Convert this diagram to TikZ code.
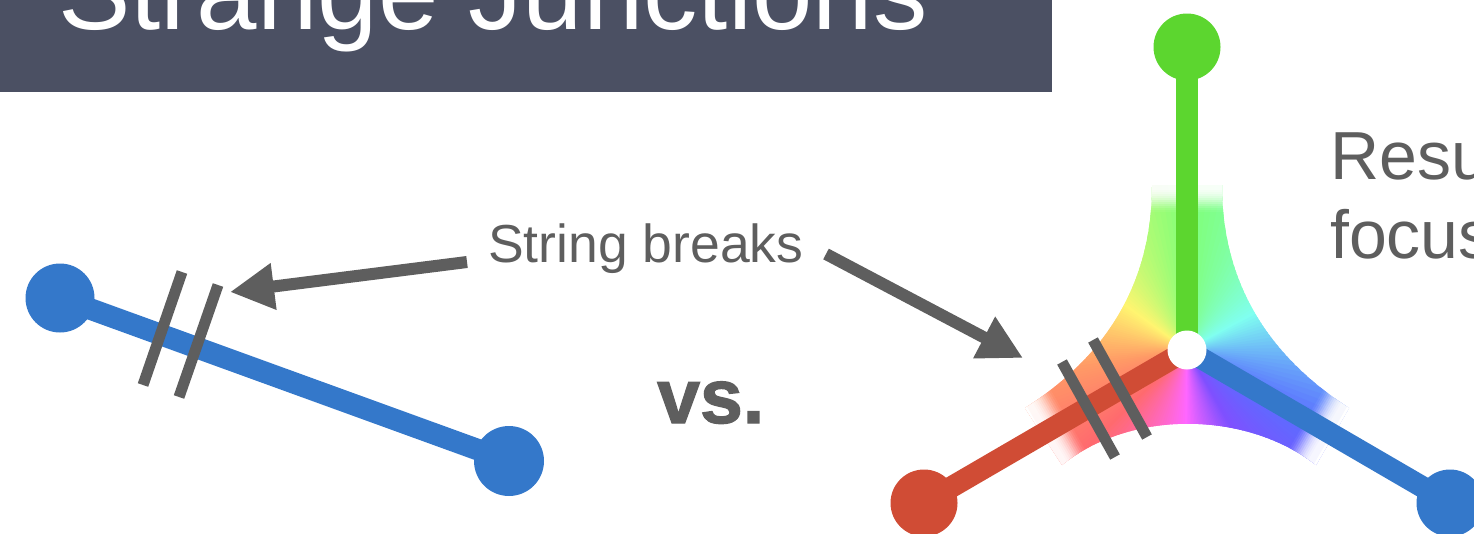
\documentclass[tikz,border=0pt]{standalone}
\usepackage{fontspec}
\setmainfont{Liberation Sans}
\newfontfamily\heavyfont[FakeBold=1.6]{Liberation Sans Bold}
\usetikzlibrary{arrows.meta,calc}
\definecolor{bandcol}{HTML}{4B5063}
\definecolor{inkcol}{HTML}{5E5E5E}
\definecolor{stringblue}{HTML}{3478CA}
\definecolor{stringred}{HTML}{D04C35}
\definecolor{stringgreen}{HTML}{5CD62F}
% pastel hue wheel of the junction field, clockwise from the top
\definecolor{hgreen}{HTML}{80FF78}
\definecolor{hcyan}{HTML}{80FFF0}
\definecolor{hblue}{HTML}{5A6EFF}
\definecolor{hviolet}{HTML}{8050FF}
\definecolor{hmagenta}{HTML}{FF66FF}
\definecolor{hred}{HTML}{FF6A6E}
\definecolor{horange}{HTML}{FF9A66}
\definecolor{hyellow}{HTML}{FFF570}
\tikzset{
  endball/.style={circle,fill=#1,draw=none,minimum size=67pt,inner sep=0pt},
  stringline/.style={line width=21.5pt,draw=#1},
  breakmark/.style={line width=11pt,draw=inkcol},
  pointer/.style={line width=12pt,draw=inkcol,-{Triangle[length=44pt,width=44pt,fill=inkcol]}},
  label/.style={inner sep=0pt,text=inkcol,anchor=base west,font=\fontsize{53.5}{60}\selectfont},
  biglabel/.style={inner sep=0pt,text=inkcol,anchor=base west,font=\fontsize{68}{72}\selectfont},
}
\begin{document}
\begin{tikzpicture}[x=1pt,y=-1pt]
\useasboundingbox (0,0) rectangle (1474,533);
\clip (0,0) rectangle (1474,533);

% heading band
\fill[bandcol] (0,0) rectangle (1052,92);
\node[inner sep=0pt,anchor=base west,text=white,font=\fontsize{108.6}{110}\selectfont] (heading) at (58,29) {Strange Junctions};

% straight string
\node[endball=stringblue,minimum size=69pt] (qa) at (60,298) {};
\node[endball=stringblue,minimum size=70pt] (qb) at (509,461) {};
\draw[stringline=stringblue] (qa.center) -- (qb.center);
\coordinate (ma1) at (182,272); \coordinate (ma2) at (143,385);
\coordinate (mb1) at (218,285); \coordinate (mb2) at (179,397);
\draw[breakmark] (ma1) -- (ma2);
\draw[breakmark] (mb1) -- (mb2);

% labels and pointers
\node[label] (breaks) at (488,262) {String breaks};
\node[inner sep=0pt,anchor=base west,text=inkcol,font=\heavyfont\fontsize{77}{80}\selectfont] (versus) at (657,423) {vs.};
\node[biglabel] (res) at (1330,179) {Resu};
\node[biglabel] (foc) at (1330,258) {focus};
\coordinate (pa0) at (467,262); \coordinate (pa1) at (230,292);
\coordinate (pb0) at (826,254); \coordinate (pb1) at (1023,358);
\draw[pointer] (pa0) -- (pa1);
\draw[pointer] (pb0) -- (pb1);

% junction field
\coordinate (hub) at (1187,350);
\begin{scope}
  \clip (1152,185) .. controls (1152,290) and (1100,360) .. (1025,408)
     -- (1062,465) .. controls (1130,410) and (1245,410) .. (1316,465)
     -- (1349,408) .. controls (1275,360) and (1222,290) .. (1222,185) -- cycle;
  \foreach \ca/\cb/\sa/\sb in {hgreen/hcyan/0/60,hcyan/hblue/60/120,hblue/hviolet/120/150,
      hviolet/hmagenta/150/180,hmagenta/hred/180/225,hred/horange/225/260,horange/hyellow/260/305,hyellow/hgreen/305/360}{
    \foreach \t in {0,0.04,...,0.98}{
      \pgfmathsetmacro{\aone}{\sa+\t*(\sb-\sa)}
      \pgfmathsetmacro{\atwo}{\aone+0.04*(\sb-\sa)+1.5}
      \pgfmathsetmacro{\mixv}{100*\t}
      \fill[color=\cb!\mixv!\ca] (hub) -- ($(hub)+({400*sin(\aone)},{-400*cos(\aone)})$)
        -- ($(hub)+({400*sin(\atwo)},{-400*cos(\atwo)})$) -- cycle;
    }
  }
  % the field dies away towards the quarks: stacked translucent white bands
  \foreach \ang in {0,120,240}{
    \foreach \k in {0,...,11}{
      \pgfmathsetmacro{\d}{138+2*\k}
      \pgfmathsetmacro{\op}{0.05+0.03*\k}
      \fill[white,opacity=\op] ($(hub)+({\d*sin(\ang)-200*cos(\ang)},{-\d*cos(\ang)-200*sin(\ang)})$)
        -- ($(hub)+({\d*sin(\ang)+200*cos(\ang)},{-\d*cos(\ang)+200*sin(\ang)})$)
        -- ($(hub)+({400*sin(\ang)+200*cos(\ang)},{-400*cos(\ang)+200*sin(\ang)})$)
        -- ($(hub)+({400*sin(\ang)-200*cos(\ang)},{-400*cos(\ang)-200*sin(\ang)})$) -- cycle;
    }
    \fill[white] ($(hub)+({167*sin(\ang)-200*cos(\ang)},{-167*cos(\ang)-200*sin(\ang)})$)
      -- ($(hub)+({167*sin(\ang)+200*cos(\ang)},{-167*cos(\ang)+200*sin(\ang)})$)
      -- ($(hub)+({400*sin(\ang)+200*cos(\ang)},{-400*cos(\ang)+200*sin(\ang)})$)
      -- ($(hub)+({400*sin(\ang)-200*cos(\ang)},{-400*cos(\ang)-200*sin(\ang)})$) -- cycle;
  }
\end{scope}

% junction strings and their end balls
\node[endball=stringgreen] (qg) at (1187,47) {};
\node[endball=stringred] (qr) at (924,503) {};
\node[endball=stringblue] (qbl) at (1450,503) {};
\draw[stringline=stringgreen] (hub) -- (qg.center);
\draw[stringline=stringred] (hub) -- (qr.center);
\draw[stringline=stringblue] (hub) -- (qbl.center);
\coordinate (mc1) at (1062,362); \coordinate (mc2) at (1115,457);
\coordinate (md1) at (1093,340); \coordinate (md2) at (1147,437);
\draw[breakmark] (mc1) -- (mc2);
\draw[breakmark] (md1) -- (md2);
\node[circle,fill=white,minimum size=39pt,inner sep=0pt] (hubdot) at (hub) {};
\end{tikzpicture}
\end{document}
